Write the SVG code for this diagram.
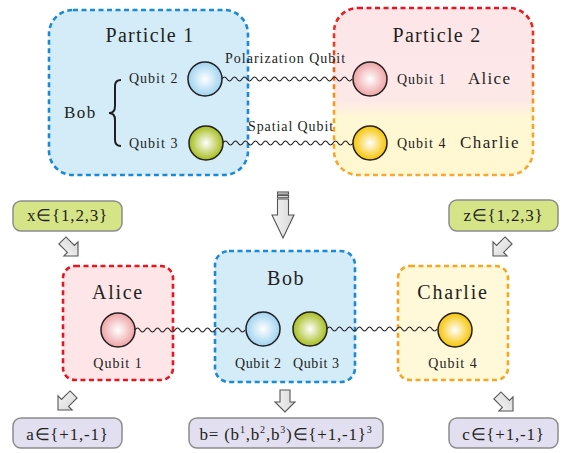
<svg xmlns="http://www.w3.org/2000/svg" width="568" height="453" viewBox="0 0 568 453">
<style>
text{font-family:"Liberation Serif","Times New Roman",serif;fill:#231f20}
.big{font-size:20px;letter-spacing:1.5px;text-anchor:middle}
.mid{font-size:17px;letter-spacing:1.4px}
.q{font-size:14px;letter-spacing:1px}
.ctr{text-anchor:middle}
.ball{stroke:#231f20;stroke-width:1.5}
.wave{fill:none;stroke:#231f20;stroke-width:1.1}
.blue{fill:#d4ebf8;stroke:#1b8ad6;stroke-width:2.6;stroke-dasharray:5 3.5}
.red{fill:#fde5e8;stroke:#e8141e;stroke-width:2.6;stroke-dasharray:5 3.5}
.orange{fill:#fff9da;stroke:#f5a623;stroke-width:2.6;stroke-dasharray:5 3.5}
.input{fill:#d5e487;stroke:#8c8c8c;stroke-width:1.5}
.output{fill:#e2e0f0;stroke:#8c8c8c;stroke-width:1.5}
.arr{fill:url(#arrFill);stroke:#555;stroke-width:1.1;stroke-linejoin:miter}
.box{font-size:17px;letter-spacing:0.8px;text-anchor:middle}
</style>
<defs>
<radialGradient id="gBlue" cx="0.5" cy="0.5" r="0.5"><stop offset="0" stop-color="#ffffff"/><stop offset="1" stop-color="#9fd3f0"/></radialGradient>
<radialGradient id="gGreen" cx="0.5" cy="0.5" r="0.5"><stop offset="0" stop-color="#ffffff"/><stop offset="1" stop-color="#a6bd1c"/></radialGradient>
<radialGradient id="gPink" cx="0.5" cy="0.5" r="0.5"><stop offset="0" stop-color="#ffffff"/><stop offset="1" stop-color="#eea3a5"/></radialGradient>
<radialGradient id="gYellow" cx="0.5" cy="0.5" r="0.5"><stop offset="0" stop-color="#ffffff"/><stop offset="1" stop-color="#f6c400"/></radialGradient>
<linearGradient id="p2Fill" x1="0" y1="8" x2="0" y2="175" gradientUnits="userSpaceOnUse"><stop offset="0" stop-color="#fde5e8"/><stop offset="0.55" stop-color="#fde8e8"/><stop offset="0.66" stop-color="#fff8d4"/><stop offset="1" stop-color="#fff7d0"/></linearGradient>
<linearGradient id="p2Stroke" x1="0" y1="8" x2="0" y2="175" gradientUnits="userSpaceOnUse"><stop offset="0" stop-color="#e8141e"/><stop offset="0.35" stop-color="#ee5a1c"/><stop offset="0.6" stop-color="#f6a51c"/><stop offset="1" stop-color="#f6a832"/></linearGradient>
<linearGradient id="arrFill" x1="0" y1="0" x2="1" y2="0"><stop offset="0" stop-color="#f4f4f4"/><stop offset="1" stop-color="#d8d8d8"/></linearGradient>
<path id="sArrow" d="M-5,-22 H5 V-10 H10 L0,0 L-10,-10 H-5 Z"/>
</defs>

<!-- top section -->
<g id="particle1">
<rect x="49" y="10" width="199" height="165" rx="24" class="blue"/>
<text x="150" y="42" class="big" style="letter-spacing:1.3px">Particle 1</text>
</g>
<g id="particle2">
<rect x="334" y="8" width="199" height="167" rx="24" fill="url(#p2Fill)" stroke="url(#p2Stroke)" stroke-width="2.6" stroke-dasharray="5 3.5"/>
<text x="437" y="42" class="big" style="letter-spacing:1.3px">Particle 2</text>
</g>
<g id="bob-top">
<text x="64" y="118" class="mid">Bob</text>
<path d="M121,80 q-6,0 -6,6 v20 q0,7 -6,7 q6,0 6,7 v20 q0,6 6,6" fill="none" stroke="#231f20" stroke-width="2"/>
</g>
<g id="qubit2-top">
<circle cx="205" cy="79" r="17" fill="url(#gBlue)" class="ball"/>
<text x="129" y="83" class="q">Qubit 2</text>
</g>
<g id="qubit3-top">
<circle cx="206" cy="143" r="17" fill="url(#gGreen)" class="ball"/>
<text x="129" y="148" class="q">Qubit 3</text>
</g>
<g id="qubit1-top">
<circle cx="370" cy="79" r="17" fill="url(#gPink)" class="ball"/>
<text x="397" y="84" class="q">Qubit 1</text>
<text x="468" y="84" class="mid" style="letter-spacing:1.3px">Alice</text>
</g>
<g id="qubit4-top">
<circle cx="370" cy="143" r="17" fill="url(#gYellow)" class="ball"/>
<text x="397" y="148" class="q">Qubit 4</text>
<text x="460" y="148" class="mid">Charlie</text>
</g>

<!-- bottom section -->
<g id="input-x">
<rect x="13" y="201" width="109" height="30" rx="8" class="input"/>
<text x="67.5" y="221" class="box">x∈{1,2,3}</text>
</g>
<g id="input-z">
<rect x="449" y="200" width="109" height="31" rx="8" class="input"/>
<text x="503.5" y="221" class="box">z∈{1,2,3}</text>
</g>
<g id="alice">
<rect x="63" y="266" width="110" height="114" rx="12" class="red"/>
<text x="118" y="299" class="big" style="letter-spacing:1.7px">Alice</text>
<circle cx="118" cy="330" r="17" fill="url(#gPink)" class="ball"/>
<text x="118" y="368" class="q ctr">Qubit 1</text>
</g>
<g id="bob">
<rect x="215" y="251" width="140" height="131" rx="14" class="blue"/>
<text x="286" y="285" class="big">Bob</text>
<circle cx="263" cy="329" r="17" fill="url(#gBlue)" class="ball"/>
<circle cx="310" cy="329" r="17" fill="url(#gGreen)" class="ball"/>
<text x="235" y="368" class="q" style="letter-spacing:0.6px">Qubit 2</text>
<text x="293" y="368" class="q" style="letter-spacing:0.6px">Qubit 3</text>
</g>
<g id="charlie">
<rect x="398" y="266" width="110" height="114" rx="12" class="orange"/>
<text x="453" y="299" class="big" style="letter-spacing:1.8px">Charlie</text>
<circle cx="455" cy="330" r="17" fill="url(#gYellow)" class="ball"/>
<text x="453" y="368" class="q ctr">Qubit 4</text>
</g>
<g id="output-a">
<rect x="13" y="418" width="109" height="30" rx="8" class="output"/>
<text x="67.5" y="440" class="box">a∈{+1,-1}</text>
</g>
<g id="output-b">
<rect x="189" y="418" width="194" height="30" rx="8" class="output"/>
<text x="286" y="440" class="box">b= (b<tspan dy="-7" font-size="10">1</tspan><tspan dy="7">,b</tspan><tspan dy="-7" font-size="10">2</tspan><tspan dy="7">,b</tspan><tspan dy="-7" font-size="10">3</tspan><tspan dy="7">)∈{+1,-1}</tspan><tspan dy="-7" font-size="10">3</tspan></text>
</g>
<g id="output-c">
<rect x="449" y="418" width="109" height="30" rx="8" class="output"/>
<text x="503.5" y="440" class="box">c∈{+1,-1}</text>
</g>

<g id="connectors">
<path class="wave" d="M222,79 q2.5,-4 5,0 t5,0 t5,0 t5,0 t5,0 t5,0 t5,0 t5,0 t5,0 t5,0 t5,0 t5,0 t5,0 t5,0 t5,0 t5,0 t5,0 t5,0 t5,0 t5,0 t5,0 t5,0 t5,0 t5,0 t5,0 t5,0"/>
<text x="225" y="63" class="q" style="letter-spacing:1px">Polarization Qubit</text>
<path class="wave" d="M223,143 q2.5,-4 5,0 t5,0 t5,0 t5,0 t5,0 t5,0 t5,0 t5,0 t5,0 t5,0 t5,0 t5,0 t5,0 t5,0 t5,0 t5,0 t5,0 t5,0 t5,0 t5,0 t5,0 t5,0 t5,0 t5,0 t5,0 t5,0"/>
<text x="248" y="131" class="q" style="letter-spacing:0.9px">Spatial Qubit</text>
<path class="wave" d="M135,330 q2.5,-4 5,0 t5,0 t5,0 t5,0 t5,0 t5,0 t5,0 t5,0 t5,0 t5,0 t5,0 t5,0 t5,0 t5,0 t5,0 t5,0 t5,0 t5,0 t5,0 t5,0 t5,0 t5,0"/>
<path class="wave" d="M327,329 q2.5,-4 5,0 t5,0 t5,0 t5,0 t5,0 t5,0 t5,0 t5,0 t5,0 t5,0 t5,0 t5,0 t5,0 t5,0 t5,0 t5,0 t5,0 t5,0 t5,0 t5,0 t5,0 t5,0"/>
<g id="main-arrow" transform="translate(283,238)">
<rect x="-5.5" y="-46" width="11" height="2.2" class="arr"/>
<rect x="-5.5" y="-42.5" width="11" height="2.2" class="arr"/>
<path d="M-5.5,-39 H5.5 V-23 H11 L0,0 L-11,-23 H-5.5 Z" class="arr"/>
</g>
<use href="#sArrow" class="arr" transform="translate(78,256) rotate(-45)"/>
<use href="#sArrow" class="arr" transform="translate(493,256) rotate(45)"/>
<use href="#sArrow" class="arr" transform="translate(58,410) rotate(45)"/>
<use href="#sArrow" class="arr" transform="translate(285,412)"/>
<use href="#sArrow" class="arr" transform="translate(513,411) rotate(-45)"/>
</g>
</svg>
